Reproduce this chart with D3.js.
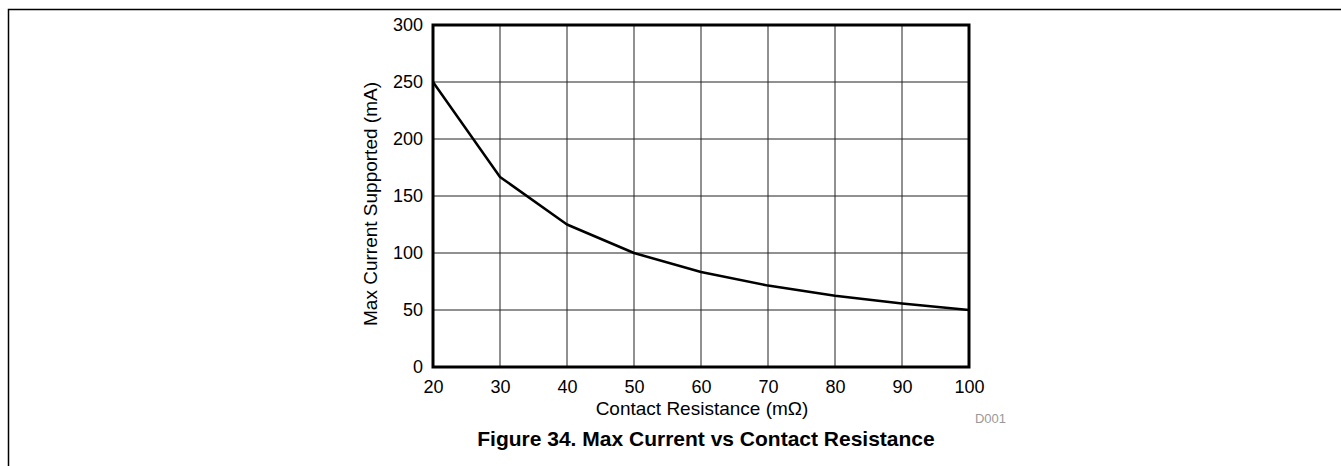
<!DOCTYPE html>
<html><head><meta charset="utf-8">
<script src="https://cdn.jsdelivr.net/npm/d3@7"></script>
<style>body{margin:0;background:#fff}svg{display:block}text{font-family:"Liberation Sans",Arial,sans-serif}</style>
</head><body>
<svg id="c" width="1341" height="466"></svg>
<script>
const resistance = [20, 30, 40, 50, 60, 70, 80, 90, 100];
const maxCurrent = [250, 166.7, 125, 100, 83.3, 71.4, 62.5, 55.6, 50];
const xTicks = [20, 30, 40, 50, 60, 70, 80, 90, 100];
const yTicks = [0, 50, 100, 150, 200, 250, 300];

const svg = d3.select("#c");
const L = 433, R = 969, T = 25, B = 367;
const x = d3.scaleLinear().domain([20, 100]).range([L, R]);
const y = d3.scaleLinear().domain([0, 300]).range([B, T]);
const FONT = "Liberation Sans, Arial, sans-serif";

// outer page frame
svg.append("path").attr("d", "M8.5,466 V9.5 H1341").attr("fill", "none").attr("stroke", "#000").attr("stroke-width", 1.5);

// grid
svg.append("g").selectAll("line").data(xTicks).join("line")
  .attr("x1", d => x(d)).attr("x2", d => x(d)).attr("y1", T).attr("y2", B)
  .attr("stroke", "#222").attr("stroke-width", 1);
svg.append("g").selectAll("line").data(yTicks).join("line")
  .attr("y1", d => y(d)).attr("y2", d => y(d)).attr("x1", L).attr("x2", R)
  .attr("stroke", "#222").attr("stroke-width", 1);

// axes labels
const xAxis = d3.axisBottom(x).tickValues(xTicks).tickSize(0).tickPadding(13);
const gx = svg.append("g").attr("transform", `translate(0,${B})`).call(xAxis);
gx.select(".domain").remove();
gx.selectAll("text").attr("font-size", 18).attr("fill", "#000").attr("font-family", FONT);
const yAxis = d3.axisLeft(y).tickValues(yTicks).tickSize(0).tickPadding(10);
const gy = svg.append("g").attr("transform", `translate(${L},0)`).call(yAxis);
gy.select(".domain").remove();
gy.selectAll("text").attr("font-size", 18).attr("fill", "#000").attr("font-family", FONT);

// line
const data = resistance.map((r, i) => [r, maxCurrent[i]]);
svg.append("path").datum(data)
  .attr("d", d3.line().x(d => x(d[0])).y(d => y(d[1])))
  .attr("fill", "none").attr("stroke", "#000").attr("stroke-width", 2.5).attr("stroke-linejoin", "round");

// frame
svg.append("rect").attr("x", L).attr("y", T).attr("width", R - L).attr("height", B - T)
  .attr("fill", "none").attr("stroke", "#000").attr("stroke-width", 3);

// titles
svg.append("text").attr("x", 702).attr("y", 414.5).attr("text-anchor", "middle")
  .attr("font-size", 19).text("Contact Resistance (m\u03A9)");
svg.append("text").attr("transform", `translate(377,204) rotate(-90)`).attr("text-anchor", "middle")
  .attr("font-size", 19).text("Max Current Supported (mA)");
svg.append("text").attr("x", 1006).attr("y", 423).attr("text-anchor", "end")
  .attr("font-size", 13).attr("fill", "#999").text("D001");
svg.append("text").attr("x", 706).attr("y", 446).attr("text-anchor", "middle")
  .attr("font-size", 21).attr("font-weight", "bold").text("Figure 34. Max Current vs Contact Resistance");
</script>
</body></html>
